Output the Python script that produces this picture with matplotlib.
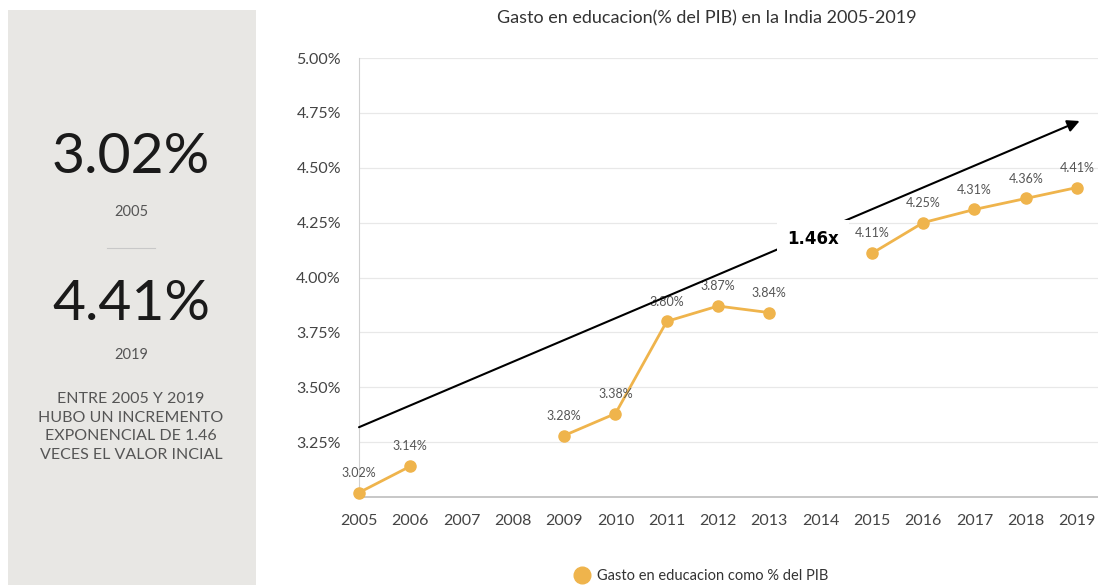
import numpy as np
import matplotlib.pyplot as plt
from matplotlib.patches import Rectangle
from matplotlib.ticker import FuncFormatter

plt.rcParams['font.family'] = ['Lato', 'DejaVu Sans']

years = [2005, 2006, 2007, 2008, 2009, 2010, 2011, 2012, 2013, 2014, 2015, 2016, 2017, 2018, 2019]
gasto = [3.02, 3.14, np.nan, np.nan, 3.28, 3.38, 3.80, 3.87, 3.84, np.nan, 4.11, 4.25, 4.31, 4.36, 4.41]
y_ticks = [3.25, 3.50, 3.75, 4.00, 4.25, 4.50, 4.75, 5.00]
trend_start = (2005, 3.318)
trend_end = (2019.05, 4.713)
trend_label = '1.46x'

naranja = '#efb44c'
gris = '#555555'

fig = plt.figure(figsize=(10.98, 5.85), dpi=100)
W, H = 1098, 585

# panel lateral
fig.patches.append(Rectangle((8 / W, 0), 248 / W, 1 - 10 / H, transform=fig.transFigure,
                             facecolor='#e8e7e4', edgecolor='none', zorder=0))
cx = 131 / W
fig.text(cx, 1 - 158 / H, '3.02%', ha='center', va='center', fontsize=41, fontweight='normal', color='#1a1a1a')
fig.text(cx, 1 - 212 / H, '2005', ha='center', va='center', fontsize=10.5, color=gris)
fig.add_artist(plt.Line2D([107 / W, 155 / W], [1 - 248 / H, 1 - 248 / H], transform=fig.transFigure,
                          color='#c8c8c8', lw=0.8))
fig.text(cx, 1 - 305 / H, '4.41%', ha='center', va='center', fontsize=41, fontweight='normal', color='#1a1a1a')
fig.text(cx, 1 - 355 / H, '2019', ha='center', va='center', fontsize=10.5, color=gris)
fig.text(cx, 1 - 427 / H, 'ENTRE 2005 Y 2019\nHUBO UN INCREMENTO\nEXPONENCIAL DE 1.46\nVECES EL VALOR INCIAL',
         ha='center', va='center', fontsize=11.5, color=gris, linespacing=1.4)

# grafico
ax = fig.add_axes([359 / W, 1 - 497 / H, (W - 359) / W, (497 - 58) / H])
ax.set_xlim(2005, 2005 + (W - 359) / 51.29)
ax.set_ylim(3.0, 5.0)
ax.set_yticks(y_ticks)
ax.yaxis.set_major_formatter(FuncFormatter(lambda v, p: '{:.2f}%'.format(v)))
ax.set_xticks(years)
ax.tick_params(length=0, labelsize=11.5, labelcolor='#444444')
ax.tick_params(axis='x', pad=12)
ax.tick_params(axis='y', pad=13)
ax.grid(axis='y', color='#e8e8e8', lw=0.9)
ax.set_axisbelow(True)
for s in ['top', 'right']:
    ax.spines[s].set_visible(False)
ax.spines['left'].set_color('#d0d0d0')
ax.spines['bottom'].set_color('#bdbdbd')
ax.spines['bottom'].set_linewidth(1.2)

ax.plot(years, gasto, color=naranja, lw=2, marker='o', ms=8, clip_on=False, zorder=3,
        label='Gasto en educacion como % del PIB')
for x, v in zip(years, gasto):
    if not np.isnan(v):
        ax.annotate('{:.2f}%'.format(v), (x, v), xytext=(0, 10), textcoords='offset points',
                    ha='center', va='bottom', fontsize=9, color=gris)

ax.annotate('', xy=trend_end, xytext=trend_start,
            arrowprops=dict(arrowstyle='-|>', color='black', lw=1.5, mutation_scale=18,
                            shrinkA=0, shrinkB=0), zorder=4)
tx = 2013.85
ty = trend_start[1] + (tx - trend_start[0]) / (trend_end[0] - trend_start[0]) * (trend_end[1] - trend_start[1])
ax.text(tx, ty - 0.02, trend_label, ha='center', va='center', fontsize=12, fontweight='bold',
        family='DejaVu Sans', color='black', zorder=5,
        bbox=dict(facecolor='white', edgecolor='none', boxstyle='square,pad=0.6'))

fig.text(707 / W, 1 - 18 / H, 'Gasto en educacion(% del PIB) en la India 2005-2019',
         ha='center', va='center', fontsize=13, color='#333333')

fig.legend(loc='center', bbox_to_anchor=(702 / W, 1 - 576 / H), frameon=False, fontsize=10.5,
           handlelength=0.8, handletextpad=0.6, labelcolor='#333333')
leg = fig.legends[0]
for h in leg.legend_handles:
    h.set_linestyle('none')
    h.set_markersize(12)

fig.savefig('out.png', dpi=100)
